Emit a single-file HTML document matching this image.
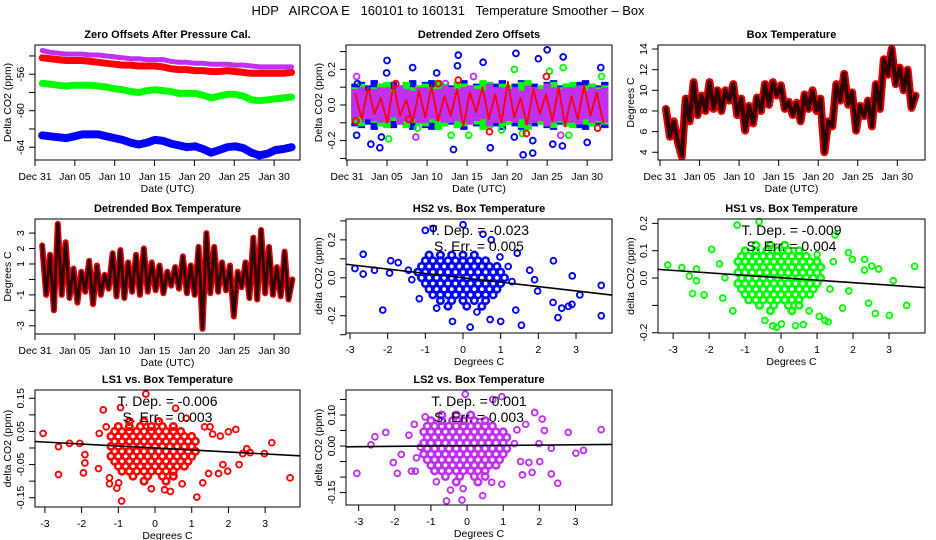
<!DOCTYPE html>
<html><head><meta charset="utf-8">
<style>
html,body{margin:0;padding:0;background:#fff;}
svg{display:block;font-family:"Liberation Sans",Arial,sans-serif;}
</style></head>
<body>
<svg id="chart" width="936" height="540" viewBox="0 0 936 540" xmlns="http://www.w3.org/2000/svg">
<rect x="0" y="0" width="936" height="540" fill="#fff"/>
<text x="448" y="15" font-size="13" text-anchor="middle" textLength="393" lengthAdjust="spacingAndGlyphs" xml:space="preserve">HDP   AIRCOA E   160101 to 160131   Temperature Smoother – Box</text>
</svg>
<script>
// ---------- Panel 1: Zero offsets (daily values) ----------
const zoPurple = [-53.4,-53.6,-53.7,-53.8,-53.8,-53.8,-53.9,-53.9,-54.0,-54.1,-54.2,-54.3,-54.3,-54.4,-54.4,-54.4,-54.6,-54.7,-54.7,-54.8,-54.8,-54.9,-54.9,-54.9,-55.0,-55.0,-55.1,-55.2,-55.2,-55.2,-55.2,-55.2];
const zoRed = [-54.2,-54.3,-54.4,-54.5,-54.5,-54.5,-54.6,-54.7,-54.8,-54.9,-55.0,-55.0,-55.1,-55.1,-55.1,-55.2,-55.4,-55.5,-55.5,-55.6,-55.6,-55.7,-55.7,-55.6,-55.7,-55.8,-55.9,-55.9,-55.9,-55.9,-55.9,-55.8];
const zoGreen = [-57.0,-57.1,-57.2,-57.3,-57.2,-57.2,-57.2,-57.3,-57.4,-57.6,-57.7,-57.9,-58.0,-57.8,-57.7,-57.8,-57.9,-58.1,-58.1,-58.1,-58.3,-58.6,-58.4,-58.2,-58.2,-58.4,-58.8,-58.9,-58.8,-58.7,-58.6,-58.5];
const zoBlue = [-62.7,-62.8,-62.9,-63.0,-62.8,-62.6,-62.6,-62.6,-62.8,-63.0,-63.2,-63.5,-63.7,-63.5,-63.2,-63.3,-63.6,-63.8,-64.0,-63.9,-64.2,-64.6,-64.3,-64.0,-63.9,-64.1,-64.6,-64.9,-64.7,-64.3,-64.2,-64.0];
const dateTickDays = [0,5,10,15,20,25,30];
const dateTickLabels = ["Dec 31","Jan 05","Jan 10","Jan 15","Jan 20","Jan 25","Jan 30"];

// ---------- Panel 2: Detrended zero offsets ----------
const dzPurple = [0.09,-0.1,0.08,-0.09,0.1,-0.1,0.07,-0.11,0.09,-0.08,0.1,-0.1,0.08,-0.09,0.1,-0.1,0.09,-0.1,0.11,-0.09,0.08,-0.12,0.1,-0.1,0.09,-0.1,0.08,-0.11,0.1,-0.09,0.12,-0.1,0.09,-0.1,0.1,-0.11,0.08,-0.1,0.09,-0.1];
const dzRed = [0.06,-0.08,0.1,-0.05,0.04,-0.1,0.12,-0.06,0.03,-0.1,0.08,-0.07,0.11,-0.09,0.05,-0.06,0.09,-0.12,0.07,-0.04,0.1,-0.08,0.06,-0.1,0.13,-0.07,0.04,-0.11,0.09,-0.05,0.06,-0.09,0.1,-0.12,0.05,-0.08,0.11,-0.06,0.07,-0.1];
const dzGreen = [0.1,-0.12,0.08,-0.1,0.12,-0.13,0.09,-0.11,0.13,-0.1,0.11,-0.12,0.1,-0.14,0.12,-0.1,0.13,-0.12,0.1,-0.11,0.14,-0.13,0.1,-0.12,0.11,-0.1,0.13,-0.14,0.1,-0.11,0.12,-0.13,0.1,-0.12,0.13,-0.1,0.11,-0.12,0.1,-0.11];
const dzBlue = [0.12,-0.13,0.11,-0.14,0.12,-0.12,0.13,-0.11,0.12,-0.14,0.11,-0.13,0.14,-0.12,0.12,-0.11,0.13,-0.14,0.11,-0.12,0.13,-0.13,0.12,-0.14,0.11,-0.12,0.14,-0.13,0.12,-0.11,0.13,-0.14,0.11,-0.12,0.12,-0.13,0.14,-0.12,0.11,-0.13];
const dzBlueOutDay = [1.2,2.98,4.1,5.0,4.95,8.2,11.2,13.3,13.9,13.8,17.0,17.9,21.1,22.0,23.2,23.9,25.0,25.7,26.9,27.0,30.0,31.7,20.9,23.2,4.3,1.3];
const dzBlueOutVal = [-0.17,-0.22,-0.24,0.25,0.18,0.21,0.18,-0.25,0.28,0.22,0.24,-0.24,0.29,-0.28,-0.27,0.26,0.31,-0.22,-0.23,0.27,-0.21,0.21,-0.18,-0.2,-0.18,0.12];
const dzGreenOutDay = [5.2,8.8,13.0,15.2,19.3,20.9,21.9,25.3,27.0,27.7,31.8,1.4];
const dzGreenOutVal = [-0.19,-0.13,-0.17,-0.17,-0.14,0.2,-0.16,0.19,0.21,-0.17,0.16,-0.09];
const dzRedOutDay = [1.1,7.7,11.4,13.9,17.8,22.4,24.9,31.3,6.1];
const dzRedOutVal = [-0.09,-0.08,0.12,0.14,-0.15,-0.16,0.16,-0.13,0.12];
const dzPurpleOutDay = [1.2,8.6,12.3,15.8,26.7];
const dzPurpleOutVal = [0.16,-0.18,0.12,0.16,-0.17];

// ---------- Panel 3: Box temperature (half-day) ----------
const boxTemp = [8.2,5.5,7.0,5.0,3.6,9.2,7.0,10.8,7.6,9.5,8.0,10.8,8.2,10.0,8.0,10.0,9.0,10.6,7.6,9.2,6.1,8.5,6.8,9.3,8.0,10.6,8.6,10.8,9.5,10.5,8.2,8.9,7.6,8.8,7.0,9.6,8.2,10.0,8.0,9.2,4.0,7.0,6.5,10.6,9.0,11.6,8.6,9.8,6.1,8.5,7.5,9.0,6.5,10.6,8.2,13.0,11.5,14.0,10.6,12.2,10.0,12.0,8.3,9.5];

// ---------- Panel 4: Detrended box temperature (half-day) ----------
const detBoxTemp = [2.2,-1.0,1.6,-2.0,3.6,-1.0,2.4,-1.2,0.7,-1.5,0.5,-0.8,1.2,-1.6,0.9,-1.0,0.3,-0.6,1.7,-1.1,1.9,-1.2,1.1,-0.8,1.6,-1.0,2.0,-0.8,1.1,-0.7,0.9,-0.9,0.5,-0.4,0.8,-0.6,1.5,-0.9,0.9,-1.0,2.1,-3.2,3.0,-0.9,2.1,-0.8,1.1,-0.7,0.9,-2.4,0.5,-0.5,1.1,-1.2,2.7,-1.3,3.2,-0.9,2.1,-1.0,0.8,-1.1,1.8,-1.3,0.0];

// ---------- Scatter panels ----------
const coreRowsXA = [
 [-0.9,-0.6,-0.3,0.0,0.3],
 [-1.0,-0.8,-0.6,-0.4,-0.2,0,0.2,0.4,0.6],
 [-1.1,-0.9,-0.7,-0.5,-0.3,-0.1,0.1,0.3,0.5,0.7,0.9],
 [-1.2,-1.0,-0.8,-0.6,-0.4,-0.2,0,0.2,0.4,0.6,0.8,1.0],
 [-1.1,-0.9,-0.7,-0.5,-0.3,-0.1,0.1,0.3,0.5,0.7,0.9,1.1],
 [-1.0,-0.8,-0.6,-0.4,-0.2,0,0.2,0.4,0.6,0.8,1.0],
 [-0.9,-0.7,-0.5,-0.3,-0.1,0.1,0.3,0.5,0.7,0.9],
 [-0.8,-0.6,-0.4,-0.2,0,0.2,0.4,0.6,0.8],
 [-0.6,-0.3,0,0.3,0.6],
 [-0.4,0.1,0.5]
];
const hs2CoreY = [0.12,0.09,0.06,0.03,0.0,-0.03,-0.06,-0.09,-0.12,-0.15];
const hs2X = [-2.65,-2.87,-2.65,-2.35,-1.95,-1.92,-1.72,-2.13,-1.45,-1.36,-1.16,-0.7,-0.28,0.0,-0.79,-1.0,0.19,0.53,1.0,1.4,1.55,1.0,1.44,1.77,1.9,1.98,2.4,2.39,2.52,2.62,2.8,2.89,2.9,3.1,3.67,3.67,1.3,1.2,0.75,0.98,0.72,0.37];
const hs2Y = [0.124,0.049,0.02,0.04,0.025,0.09,0.08,-0.17,0.04,-0.01,-0.11,-0.16,-0.23,0.28,0.26,0.25,-0.26,0.23,-0.03,-0.17,-0.25,-0.23,0.13,0.04,-0.01,-0.07,0.09,-0.13,-0.21,-0.16,-0.15,-0.14,0.01,-0.09,-0.04,-0.2,-0.02,0.06,0.2,0.11,-0.22,-0.18];
const hs2Fit = [0.0, -0.023];

const coreRowsXB = [
 [-0.7,-0.3,0.1],
 [-1.0,-0.7,-0.4,-0.1,0.2,0.5],
 [-1.1,-0.9,-0.7,-0.5,-0.3,-0.1,0.1,0.3,0.5,0.7],
 [-1.2,-1.0,-0.8,-0.6,-0.4,-0.2,0,0.2,0.4,0.6,0.8,1.0],
 [-1.1,-0.9,-0.7,-0.5,-0.3,-0.1,0.1,0.3,0.5,0.7,0.9,1.1],
 [-1.2,-1.0,-0.8,-0.6,-0.4,-0.2,0,0.2,0.4,0.6,0.8,1.0],
 [-1.1,-0.9,-0.7,-0.5,-0.3,-0.1,0.1,0.3,0.5,0.7,0.9,1.1],
 [-1.2,-1.0,-0.8,-0.6,-0.4,-0.2,0,0.2,0.4,0.6,0.8,1.0],
 [-1.1,-0.9,-0.7,-0.5,-0.3,-0.1,0.1,0.3,0.5,0.7,0.9],
 [-1.0,-0.8,-0.6,-0.4,-0.2,0,0.2,0.4,0.6,0.8],
 [-0.9,-0.7,-0.5,-0.3,-0.1,0.1,0.3,0.5],
 [-0.6,-0.2,0.2,0.5],
 [-0.3,0.3]
];
const hs1CoreY = [0.12,0.10,0.08,0.06,0.04,0.02,0.0,-0.02,-0.04,-0.06,-0.08,-0.10,-0.12];
const hs1X = [-3.15,-2.76,-2.35,-2.55,-2.35,-2.46,-2.14,-1.93,-1.71,-1.62,-1.56,-1.34,-1.22,-0.61,-0.45,-0.12,-0.23,0.01,0.4,0.62,0.78,1.06,1.22,1.31,1.5,1.87,1.98,1.71,2.32,2.32,2.43,2.52,2.62,2.71,3.01,3.12,3.49,3.71,1.45,1.36,1.88,1.0];
const hs1Y = [0.048,0.038,0.033,0.007,-0.01,-0.057,-0.062,0.105,0.052,-0.073,0.001,-0.12,0.194,0.206,-0.155,-0.18,-0.175,-0.168,-0.174,-0.17,-0.12,-0.14,-0.155,-0.16,0.158,0.093,0.068,-0.11,0.068,0.029,-0.092,0.044,-0.13,0.033,-0.137,-0.01,-0.1,0.043,0.06,-0.04,-0.047,0.086];
const hs1Fit = [0.001, -0.009];

const ls1CoreY = [0.08,0.065,0.05,0.035,0.02,0.005,-0.01,-0.025,-0.04,-0.055,-0.07,-0.085,-0.1];
const ls1X = [-3.05,-2.63,-2.63,-2.33,-2.05,-1.91,-1.91,-1.95,-1.54,-1.52,-1.41,-1.33,-1.24,-1.24,-1.04,-0.99,-0.91,-0.94,-0.25,-0.1,0.26,0.42,0.56,0.74,0.85,1.14,1.3,1.46,1.5,1.57,1.73,1.85,1.98,2.0,2.2,2.29,2.39,2.5,2.59,2.98,3.18,3.68,1.35,1.78];
const ls1Y = [0.044,0.004,-0.08,0.014,0.014,-0.02,-0.045,-0.075,-0.062,0.044,0.115,0.064,-0.09,-0.108,-0.121,-0.105,-0.16,0.122,0.163,-0.123,-0.126,-0.131,0.12,-0.108,0.09,-0.148,-0.105,-0.077,0.064,0.042,-0.077,-0.05,-0.07,0.049,0.056,-0.05,-0.017,-0.002,-0.014,-0.017,0.016,-0.09,0.064,0.036];
const ls1Fit = [0.0, -0.006];

const ls2CoreY = [0.1,0.082,0.064,0.046,0.028,0.01,-0.008,-0.026,-0.044,-0.062,-0.08,-0.098,-0.116];
const ls2X = [-3.05,-2.55,-2.66,-2.25,-2.04,-1.93,-1.82,-1.61,-1.54,-1.43,-1.46,-1.16,-1.4,-1.29,-0.85,-0.46,-0.57,-0.11,-0.14,-0.05,0.43,0.68,0.96,0.96,0.71,1.38,1.48,1.53,1.62,1.71,1.8,1.87,1.99,2.01,2.08,2.14,2.33,2.33,2.51,2.8,3.01,3.22,3.71,1.31];
const ls2Y = [-0.088,0.03,0.004,0.044,-0.053,-0.088,-0.027,0.035,-0.081,-0.081,0.07,0.094,-0.038,-0.003,-0.115,-0.142,-0.177,-0.137,-0.174,0.167,-0.16,-0.117,-0.123,0.159,0.15,0.052,-0.05,-0.093,0.07,-0.053,-0.085,0.108,0.008,-0.05,0.087,0.05,-0.007,-0.09,-0.12,0.044,-0.023,-0.014,0.053,0.008];
const ls2Fit = [0.001, 0.001];

const NS = "http://www.w3.org/2000/svg";
const svg = document.getElementById("chart");
function mk(tag, attrs, parent){
  const e = document.createElementNS(NS, tag);
  for (const k in attrs) e.setAttribute(k, attrs[k]);
  (parent || svg).appendChild(e);
  return e;
}
function scaleLin(d0,d1,r0,r1){ return v => r0 + (v-d0)*(r1-r0)/(d1-d0); }

function panel(id, title, box, xd, yd, xticks, xlabels, yticks, ylabels, xtitle, ytitle){
  const g = mk("g", {});
  
  
  const sx = scaleLin(xd[0], xd[1], box.l, box.r);
  const sy = scaleLin(yd[0], yd[1], box.b, box.t);
  const marks = mk("g", {}, g);
  
  
  const frame = mk("rect", {x:box.l, y:box.t, width:box.r-box.l, height:box.b-box.t, fill:"none", stroke:"#000", "stroke-width":1}, g);
  
  
  const tt = mk("text", {x:(box.l+box.r)/2, y:box.t-7, "font-size":11, "font-weight":"bold", "text-anchor":"middle"}, g);
  tt.textContent = title;
  
  
  const xa = mk("g", {}, g);
  
  
  const xl = mk("line", {x1:sx(xticks[0]), x2:sx(xticks[xticks.length-1]), y1:box.b, y2:box.b, stroke:"#000"}, xa);
  
  
  xticks.forEach((t,i)=>{
    const tk = mk("line", {x1:sx(t), x2:sx(t), y1:box.b, y2:box.b+6, stroke:"#000"}, xa);
    
    
    if (xlabels[i] !== "") {
      const lb = mk("text", {x:sx(t), y:box.b+20, "font-size":10.5, "text-anchor":"middle"}, xa);
      lb.textContent = xlabels[i];
      
      
    }
  });
  const xt = mk("text", {x:(box.l+box.r)/2, y:box.b+32, "font-size":10.5, "text-anchor":"middle"}, xa);
  xt.textContent = xtitle;
  
  
  const ya = mk("g", {}, g);
  
  
  const yl = mk("line", {x1:box.l, x2:box.l, y1:sy(yticks[0]), y2:sy(yticks[yticks.length-1]), stroke:"#000"}, ya);
  
  
  yticks.forEach((t,i)=>{
    const tk = mk("line", {x1:box.l-6, x2:box.l, y1:sy(t), y2:sy(t), stroke:"#000"}, ya);
    
    
    if (ylabels[i] !== "") {
      const X = box.l-11, Y = sy(t);
      const lb = mk("text", {x:X, y:Y, "font-size":10.5, "text-anchor":"middle", transform:`rotate(-90 ${X} ${Y})`}, ya);
      lb.textContent = ylabels[i];
      
      
    }
  });
  const YX = box.l-24, YY = (box.t+box.b)/2;
  const yt = mk("text", {x:YX, y:YY, "font-size":10.5, "text-anchor":"middle", transform:`rotate(-90 ${YX} ${YY})`}, ya);
  yt.textContent = ytitle;
  
  
  return {sx, sy, marks, g, box};
}

function seriesLine(p, start, end, vals, color, width, name){
  const n = vals.length;
  const pts = vals.map((v,i)=>{ const d = start + i*(end-start)/(n-1); return p.sx(d).toFixed(1)+","+p.sy(v).toFixed(1); }).join(" ");
  const pl = mk("polyline", {points:pts, fill:"none", stroke:color, "stroke-width":width, "stroke-linejoin":"round", "stroke-linecap":"round"}, p.marks);
  
  
  return pl;
}
// Band: each value drawn as a vertical spread segment of +/-|value| around zero
function seriesBand(p, start, end, vals, color, name){
  const n = vals.length;
  const w = Math.abs(p.sx(start + (end-start)/(n-1)) - p.sx(start)) + 1;
  vals.forEach((v,i)=>{
    const d = start + i*(end-start)/(n-1);
    const s = mk("line", {x1:p.sx(d), x2:p.sx(d), y1:p.sy(Math.abs(v)), y2:p.sy(-Math.abs(v)), stroke:color, "stroke-width":w}, p.marks);
    
    
  });
}
function points(p, xs, ys, color, name){
  xs.forEach((x,i)=>{
    const c = mk("circle", {cx:p.sx(x), cy:p.sy(ys[i]), r:2.9, fill:"none", stroke:color, "stroke-width":1.9}, p.marks);
    
    
  });
}
function corePoints(p, rowsX, rowsY, color, name){
  rowsY.forEach((y,j)=>{
    (rowsX[j]||[]).forEach(x=>{
      const c = mk("circle", {cx:p.sx(x), cy:p.sy(y), r:3.2, fill:"none", stroke:color, "stroke-width":2.6}, p.marks);
      
      
    });
  });
}
function fitLine(p, fit, xd, name){
  const l = mk("line", {x1:p.sx(xd[0]), y1:p.sy(fit[0]+fit[1]*xd[0]), x2:p.sx(xd[1]), y2:p.sy(fit[0]+fit[1]*xd[1]), stroke:"#000", "stroke-width":1.6}, p.marks);
  
  
}
function stats(p, dep, err, id){
  const cx = (p.box.l+p.box.r)/2;
  const a = mk("text", {x:cx, y:p.box.t+16, "font-size":14, "text-anchor":"middle", "xml:space":"preserve"}, p.g);
  a.textContent = "T. Dep. =  " + dep;
  
  
  const b = mk("text", {x:cx, y:p.box.t+32, "font-size":14, "text-anchor":"middle", "xml:space":"preserve"}, p.g);
  b.textContent = "S. Err. =  " + err;
  
  
}

// Panel 1
const p1 = panel("zero-offsets", "Zero Offsets After Pressure Cal.", {l:35,r:300,t:45,b:160}, [0,33.25], [-65.4,-52.8],
  dateTickDays, dateTickLabels, [-64,-62,-60,-58,-56,-54], ["-64","","-60","","-56",""], "Date (UTC)", "Delta CO2 (ppm)");
seriesLine(p1, 0.9, 32.2, zoBlue, "#0000ff", 8, "series-hs2");
seriesLine(p1, 0.9, 32.2, zoGreen, "#00ff00", 7, "series-hs1");
seriesLine(p1, 0.9, 32.2, zoRed, "#ff0000", 7, "series-ls1");
seriesLine(p1, 0.9, 32.2, zoPurple, "#c030f0", 5, "series-ls2");

// Panel 2
const p2 = panel("detrended-zero-offsets", "Detrended Zero Offsets", {l:346,r:612,t:45,b:160}, [-0.125,33.1], [-0.309,0.337],
  dateTickDays, dateTickLabels, [-0.3,-0.2,-0.1,0,0.1,0.2,0.3], ["","-0.2","","0.0","","0.2",""], "Date (UTC)", "Delta CO2 (ppm)");
seriesBand(p2, 1.0, 32.2, dzBlue, "#0000ff", "series-hs2");
seriesBand(p2, 1.0, 32.2, dzGreen, "#00ff00", "series-hs1");
seriesBand(p2, 1.0, 32.2, dzPurple, "#c030f0", "series-ls2");
seriesLine(p2, 1.05, 32.0, dzRed, "#ff0000", 1.8, "series-ls1");
points(p2, dzBlueOutDay, dzBlueOutVal, "#0000ff", "hs2-point");
points(p2, dzGreenOutDay, dzGreenOutVal, "#00ff00", "hs1-point");
points(p2, dzRedOutDay, dzRedOutVal, "#ff0000", "ls1-point");
points(p2, dzPurpleOutDay, dzPurpleOutVal, "#c030f0", "ls2-point");

// Panel 3
const p3 = panel("box-temperature", "Box Temperature", {l:658,r:925,t:45,b:160}, [-0.25,33.5], [3.25,14.39],
  dateTickDays, dateTickLabels, [4,6,8,10,12,14], ["4","6","8","10","12","14"], "Date (UTC)", "Degrees C");
seriesLine(p3, 0.75, 32.3, boxTemp, "#e00000", 8, "box-temperature-line");
const bt2 = seriesLine(p3, 0.75, 32.3, boxTemp, "#300000", 4, "box-temperature-dots");
bt2.setAttribute("stroke-dasharray", "1.5 1.5");

// Panel 4
const p4 = panel("detrended-box-temperature", "Detrended Box Temperature", {l:35,r:300,t:219,b:334}, [0,33.25], [-3.53,3.91],
  dateTickDays, dateTickLabels, [-3,-2,-1,0,1,2,3], ["-3","","-1","","1","2","3"], "Date (UTC)", "Degrees C");
seriesLine(p4, 0.9, 32.3, detBoxTemp, "#e00000", 6, "detrended-temperature-line");
const dt2 = seriesLine(p4, 0.9, 32.3, detBoxTemp, "#300000", 3, "detrended-temperature-dots");
dt2.setAttribute("stroke-dasharray", "1.5 1.5");

// Panel 5 HS2
const sxTicks = [-3,-2,-1,0,1,2,3];
const sxLabels = ["-3","-2","-1","0","1","2","3"];
const p5 = panel("hs2-vs-temp", "HS2 vs. Box Temperature", {l:346,r:612,t:219,b:333}, [-3.106,3.955], [-0.291,0.31],
  sxTicks, sxLabels, [-0.3,-0.2,-0.1,0,0.1,0.2,0.3], ["","-0.2","","0.0","","0.2",""], "Degrees C", "delta CO2 (ppm)");
corePoints(p5, coreRowsXA, hs2CoreY, "#0000ff", "hs2-point");
points(p5, hs2X, hs2Y, "#0000ff", "hs2-point");
fitLine(p5, hs2Fit, [-3.106,3.955], "hs2-fit-line");
stats(p5, "-0.023", "0.005", "hs2");

// Panel 6 HS1
const p6 = panel("hs1-vs-temp", "HS1 vs. Box Temperature", {l:658,r:925,t:219,b:333}, [-3.42,4.0], [-0.201,0.216],
  sxTicks, sxLabels, [-0.2,-0.1,0,0.1,0.2], ["-0.2","","0.0","0.1","0.2"], "Degrees C", "delta CO2 (ppm)");
corePoints(p6, coreRowsXB, hs1CoreY, "#00ff00", "hs1-point");
points(p6, hs1X, hs1Y, "#00ff00", "hs1-point");
fitLine(p6, hs1Fit, [-3.42,4.0], "hs1-fit-line");
stats(p6, "-0.009", "0.004", "hs1");

// Panel 7 LS1
const p7 = panel("ls1-vs-temp", "LS1 vs. Box Temperature", {l:35,r:300,t:390,b:507}, [-3.27,3.95], [-0.178,0.175],
  sxTicks, sxLabels, [-0.15,-0.1,-0.05,0,0.05,0.1,0.15], ["-0.15","","-0.05","","0.05","","0.15"], "Degrees C", "delta CO2 (ppm)");
corePoints(p7, coreRowsXB, ls1CoreY, "#ff0000", "ls1-point");
points(p7, ls1X, ls1Y, "#ff0000", "ls1-point");
fitLine(p7, ls1Fit, [-3.27,3.95], "ls1-fit-line");
stats(p7, "-0.006", "0.003", "ls1");

// Panel 8 LS2
const p8 = panel("ls2-vs-temp", "LS2 vs. Box Temperature", {l:346,r:612,t:390,b:505}, [-3.35,4.01], [-0.19,0.1806],
  sxTicks, sxLabels, [-0.15,-0.1,-0.05,0,0.05,0.1,0.15], ["-0.15","","","0.00","","0.10",""], "Degrees C", "delta CO2 (ppm)");
corePoints(p8, coreRowsXB, ls2CoreY, "#c030f0", "ls2-point");
points(p8, ls2X, ls2Y, "#c030f0", "ls2-point");
fitLine(p8, ls2Fit, [-3.35,4.01], "ls2-fit-line");
stats(p8, "0.001", "0.003", "ls2");
</script>
</body></html>
